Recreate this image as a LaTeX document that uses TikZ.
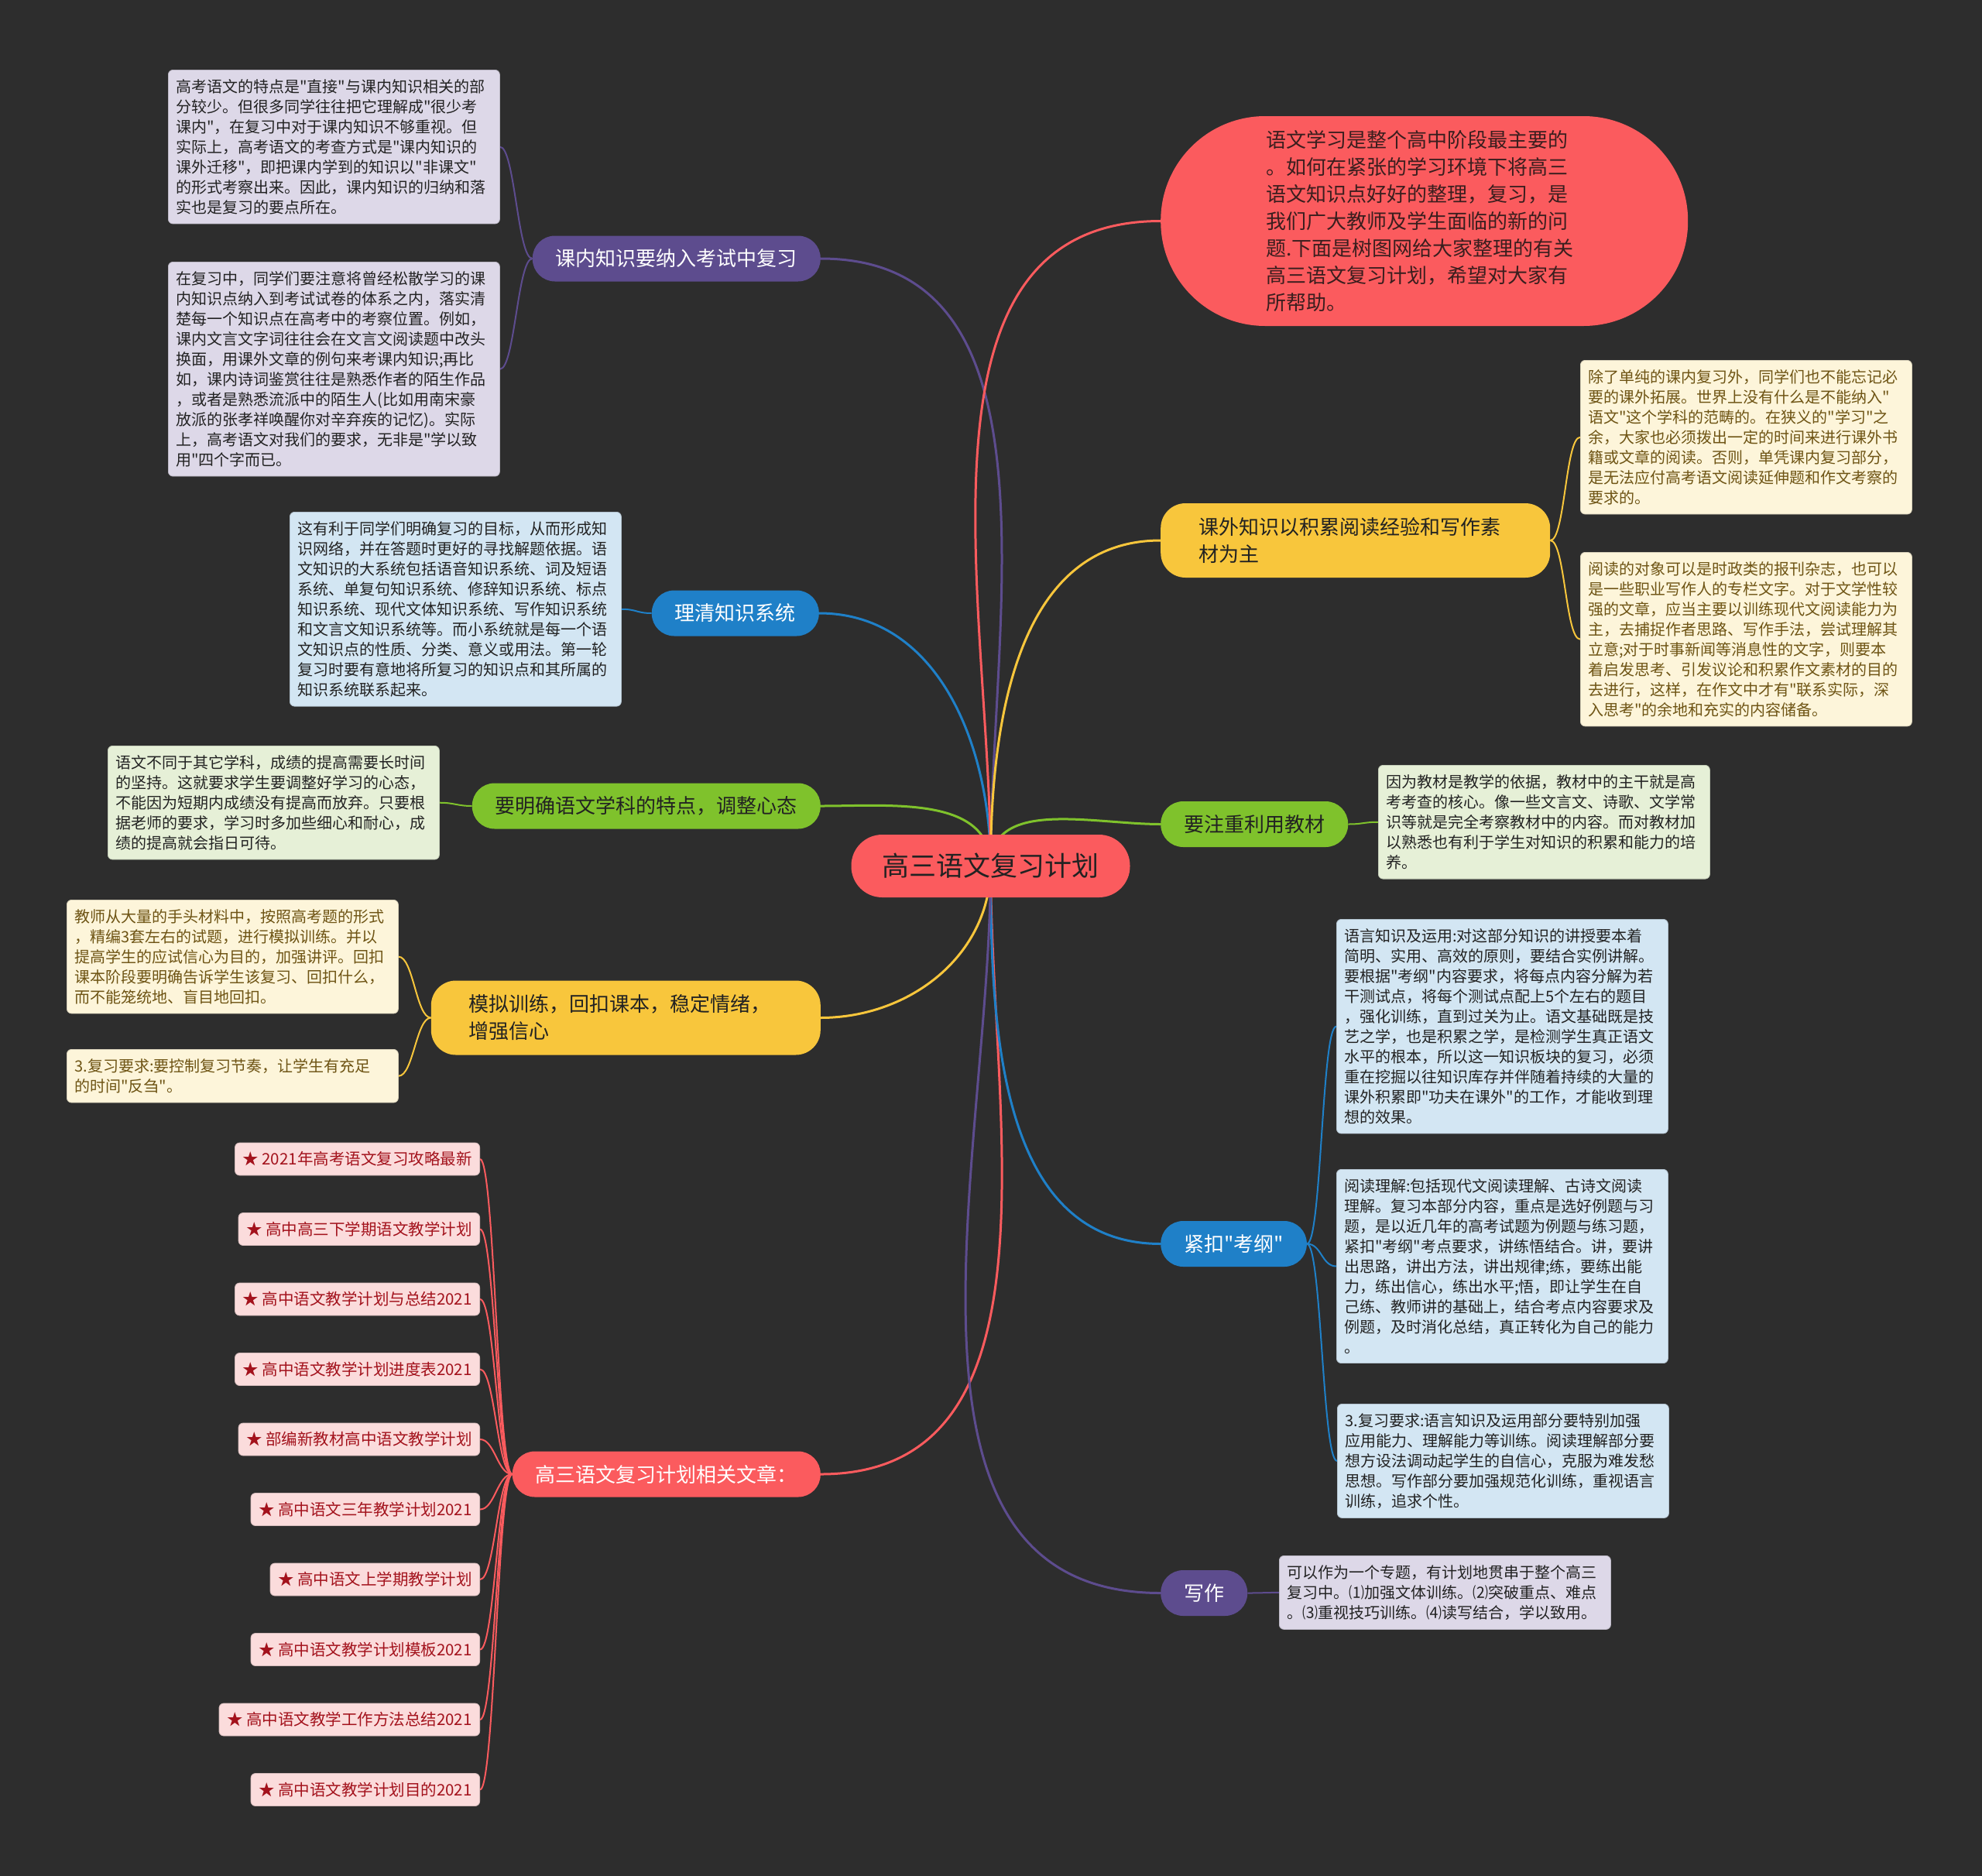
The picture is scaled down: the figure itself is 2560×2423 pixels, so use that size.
\documentclass[tikz,border=0pt]{standalone}
\usepackage{fontspec}
\setmainfont{Noto Sans CJK SC}[Ligatures=TeXOff]
\usetikzlibrary{backgrounds}
\definecolor{bgdark}{HTML}{2D2D2D}
\definecolor{mapred}{HTML}{FB5B5E}
\definecolor{mappurple}{HTML}{5D4C8E}
\definecolor{mapblue}{HTML}{1F80C8}
\definecolor{mapgreen}{HTML}{7FC22C}
\definecolor{mapyellow}{HTML}{F8C63C}
\definecolor{lpurple}{HTML}{DDD8E8}
\definecolor{lblue}{HTML}{D3E6F3}
\definecolor{lgreen}{HTML}{E6F0D7}
\definecolor{lyellow}{HTML}{FDF5DA}
\definecolor{lpink}{HTML}{FBDCDC}
\definecolor{brownink}{HTML}{6E5414}
\definecolor{redink}{HTML}{A3121C}
\definecolor{darkink}{HTML}{222222}
\definecolor{introink}{HTML}{3A1E1E}

\begin{document}
\begin{tikzpicture}[x=1pt, y=-1pt,
  root/.style={fill=mapred, text=darkink, rounded corners=40pt, minimum height=81pt,
               inner xsep=40pt, inner ysep=0pt, font=\fontsize{35}{42}\selectfont},
  branch/.style={rounded corners=29pt, minimum height=59pt, inner xsep=30pt, inner ysep=0pt,
                 font=\fontsize{26}{35}\selectfont},
  tall/.style={branch, rounded corners=32pt, minimum height=96pt, inner xsep=49pt,
               text width=405pt, align=left},
  note/.style={anchor=north west, rounded corners=6pt, inner xsep=10pt, inner ysep=12pt,
               text width=408pt, align=left, line width=0.8pt, font=\fontsize{20}{26}\selectfont},
  pnote/.style={note, fill=lpurple, draw=lpurple!85!black, text=darkink},
  bnote/.style={note, fill=lblue, draw=lblue!85!black, text=darkink},
  gnote/.style={note, fill=lgreen, draw=lgreen!85!black, text=darkink},
  ynote/.style={note, fill=lyellow, draw=lyellow!85!black, text=brownink},
  item/.style={anchor=east, fill=lpink, draw=lpink!85!black, line width=0.8pt, text=redink,
               rounded corners=6pt, minimum height=42pt, inner xsep=10pt, inner ysep=0pt,
               font=\fontsize{20.5}{26}\selectfont},
  link/.style={line width=3pt},
  twig/.style={line width=2pt},
  lt/.style={out=180, in=0, distance=19pt},
  rt/.style={out=0, in=180, distance=19pt}]

\node[root] (root) at (1279.5,1118.5) {高三语文复习计划};

% left side
\node[branch, fill=mappurple, text=white, anchor=east] (kenei) at (1060,334) {课内知识要纳入考试中复习};
\node[branch, fill=mapblue, text=white, anchor=east] (xitong) at (1058,792) {理清知识系统};
\node[branch, fill=mapgreen, text=darkink, anchor=east] (xintai) at (1060,1041) {要明确语文学科的特点，调整心态};
\node[tall, fill=mapyellow, text=darkink, anchor=east] (moni) at (1060,1314.5) {模拟训练，回扣课本，稳定情绪，\\增强信心};
\node[branch, fill=mapred, text=white, anchor=east] (wenzhang) at (1060,1904) {高三语文复习计划相关文章：};

\node[pnote] (kenei1) at (217,90) {高考语文的特点是"直接"与课内知识相关的部\\分较少。但很多同学往往把它理解成"很少考\\课内"，在复习中对于课内知识不够重视。但\\实际上，高考语文的考查方式是"课内知识的\\课外迁移"，即把课内学到的知识以"非课文"\\的形式考察出来。因此，课内知识的归纳和落\\实也是复习的要点所在。};
\node[pnote] (kenei2) at (217,338) {在复习中，同学们要注意将曾经松散学习的课\\内知识点纳入到考试试卷的体系之内，落实清\\楚每一个知识点在高考中的考察位置。例如，\\课内文言文字词往往会在文言文阅读题中改头\\换面，用课外文章的例句来考课内知识;再比\\如，课内诗词鉴赏往往是熟悉作者的陌生作品\\，或者是熟悉流派中的陌生人(比如用南宋豪\\放派的张孝祥唤醒你对辛弃疾的记忆)。实际\\上，高考语文对我们的要求，无非是"学以致\\用"四个字而已。};
\node[bnote] (xitong1) at (374,661) {这有利于同学们明确复习的目标，从而形成知\\识网络，并在答题时更好的寻找解题依据。语\\文知识的大系统包括语音知识系统、词及短语\\系统、单复句知识系统、修辞知识系统、标点\\知识系统、现代文体知识系统、写作知识系统\\和文言文知识系统等。而小系统就是每一个语\\文知识点的性质、分类、意义或用法。第一轮\\复习时要有意地将所复习的知识点和其所属的\\知识系统联系起来。};
\node[gnote] (xintai1) at (139,963) {语文不同于其它学科，成绩的提高需要长时间\\的坚持。这就要求学生要调整好学习的心态，\\不能因为短期内成绩没有提高而放弃。只要根\\据老师的要求，学习时多加些细心和耐心，成\\绩的提高就会指日可待。};
\node[ynote] (moni1) at (86,1162) {教师从大量的手头材料中，按照高考题的形式\\，精编3套左右的试题，进行模拟训练。并以\\提高学生的应试信心为目的，加强讲评。回扣\\课本阶段要明确告诉学生该复习、回扣什么，\\而不能笼统地、盲目地回扣。};
\node[ynote] (moni2) at (86,1355) {3.复习要求:要控制复习节奏，让学生有充足\\的时间"反刍"。};

\foreach \txt [count=\i] in {2021年高考语文复习攻略最新, 高中高三下学期语文教学计划,
    高中语文教学计划与总结2021, 高中语文教学计划进度表2021, 部编新教材高中语文教学计划,
    高中语文三年教学计划2021, 高中语文上学期教学计划, 高中语文教学计划模板2021,
    高中语文教学工作方法总结2021, 高中语文教学计划目的2021}
  \node[item] (art\i) at (620,{1497+(\i-1)*90.5}) {★ \txt};

% right side
\node[fill=mapred, text=introink, rounded corners=135pt, minimum height=271pt, inner xsep=136.5pt,
      inner ysep=0pt, text width=408pt, align=left, font=\fontsize{26}{35}\selectfont,
      anchor=west] (intro) at (1499,285.5) {语文学习是整个高中阶段最主要的\\。如何在紧张的学习环境下将高三\\语文知识点好好的整理，复习，是\\我们广大教师及学生面临的新的问\\题.下面是树图网给大家整理的有关\\高三语文复习计划，希望对大家有\\所帮助。};
\node[tall, fill=mapyellow, text=darkink, anchor=west] (kewai) at (1499,698) {课外知识以积累阅读经验和写作素\\材为主};
\node[branch, fill=mapgreen, text=darkink, anchor=west] (jiaocai) at (1499,1064.5) {要注重利用教材};
\node[branch, fill=mapblue, text=white, anchor=west] (kaogang) at (1499,1606.5) {紧扣"考纲"};
\node[branch, fill=mappurple, text=white, anchor=west] (xiezuo) at (1499,2057.5) {写作};

\node[ynote] (kewai1) at (2041,465) {除了单纯的课内复习外，同学们也不能忘记必\\要的课外拓展。世界上没有什么是不能纳入"\\语文"这个学科的范畴的。在狭义的"学习"之\\余，大家也必须拨出一定的时间来进行课外书\\籍或文章的阅读。否则，单凭课内复习部分，\\是无法应付高考语文阅读延伸题和作文考察的\\要求的。};
\node[ynote] (kewai2) at (2041,713) {阅读的对象可以是时政类的报刊杂志，也可以\\是一些职业写作人的专栏文字。对于文学性较\\强的文章，应当主要以训练现代文阅读能力为\\主，去捕捉作者思路、写作手法，尝试理解其\\立意;对于时事新闻等消息性的文字，则要本\\着启发思考、引发议论和积累作文素材的目的\\去进行，这样，在作文中才有"联系实际，深\\入思考"的余地和充实的内容储备。};
\node[gnote] (jiaocai1) at (1780,988) {因为教材是教学的依据，教材中的主干就是高\\考考查的核心。像一些文言文、诗歌、文学常\\识等就是完全考察教材中的内容。而对教材加\\以熟悉也有利于学生对知识的积累和能力的培\\养。};
\node[bnote] (kaogang1) at (1726,1187) {语言知识及运用:对这部分知识的讲授要本着\\简明、实用、高效的原则，要结合实例讲解。\\要根据"考纲"内容要求，将每点内容分解为若\\干测试点，将每个测试点配上5个左右的题目\\，强化训练，直到过关为止。语文基础既是技\\艺之学，也是积累之学，是检测学生真正语文\\水平的根本，所以这一知识板块的复习，必须\\重在挖掘以往知识库存并伴随着持续的大量的\\课外积累即"功夫在课外"的工作，才能收到理\\想的效果。};
\node[bnote] (kaogang2) at (1726,1510) {阅读理解:包括现代文阅读理解、古诗文阅读\\理解。复习本部分内容，重点是选好例题与习\\题，是以近几年的高考试题为例题与练习题，\\紧扣"考纲"考点要求，讲练悟结合。讲，要讲\\出思路，讲出方法，讲出规律;练，要练出能\\力，练出信心，练出水平;悟，即让学生在自\\己练、教师讲的基础上，结合考点内容要求及\\例题，及时消化总结，真正转化为自己的能力\\。};
\node[bnote] (kaogang3) at (1727,1813) {3.复习要求:语言知识及运用部分要特别加强\\应用能力、理解能力等训练。阅读理解部分要\\想方设法调动起学生的自信心，克服为难发愁\\思想。写作部分要加强规范化训练，重视语言\\训练，追求个性。};
\node[pnote] (xiezuo1) at (1652,2009) {可以作为一个专题，有计划地贯串于整个高三\\复习中。⑴加强文体训练。⑵突破重点、难点\\。⑶重视技巧训练。⑷读写结合，学以致用。};

\begin{scope}[on background layer]
\fill[bgdark] (0,0) rectangle (2560,2423);
\draw[link, mappurple] (root.center) to[out=90, in=0] (kenei.east);
\draw[link, mapblue] (root.center) to[out=90, in=0] (xitong.east);
\draw[link, mapgreen] (root.center) to[out=90, in=0] (xintai.east);
\draw[link, mapyellow] (root.center) to[out=270, in=0] (moni.east);
\draw[link, mapred] (root.center) to[out=270, in=0] (wenzhang.east);
\draw[link, mapred] (root.center) to[out=90, in=180] (intro.west);
\draw[link, mapyellow] (root.center) to[out=90, in=180] (kewai.west);
\draw[link, mapgreen] (root.center) to[out=90, in=180] (jiaocai.west);
\draw[link, mapblue] (root.center) to[out=270, in=180] (kaogang.west);
\draw[link, mappurple] (root.center) to[out=270, in=180] (xiezuo.west);

\draw[twig, mappurple] (kenei.west) to[lt] (kenei1.east);
\draw[twig, mappurple] (kenei.west) to[lt] (kenei2.east);
\draw[twig, mapblue] (xitong.west) to[lt] (xitong1.east);
\draw[twig, mapgreen] (xintai.west) to[lt] (xintai1.east);
\draw[twig, mapyellow] (moni.west) to[lt] (moni1.east);
\draw[twig, mapyellow] (moni.west) to[lt] (moni2.east);
\foreach \i in {1,...,10}
  \draw[twig, mapred] (wenzhang.west) to[lt] (art\i.east);
\draw[twig, mapyellow] (kewai.east) to[rt] (kewai1.west);
\draw[twig, mapyellow] (kewai.east) to[rt] (kewai2.west);
\draw[twig, mapgreen] (jiaocai.east) to[rt] (jiaocai1.west);
\draw[twig, mapblue] (kaogang.east) to[rt] (kaogang1.west);
\draw[twig, mapblue] (kaogang.east) to[rt] (kaogang2.west);
\draw[twig, mapblue] (kaogang.east) to[rt] (kaogang3.west);
\draw[twig, mappurple] (xiezuo.east) to[rt] (xiezuo1.west);
\end{scope}
\end{tikzpicture}
\end{document}
